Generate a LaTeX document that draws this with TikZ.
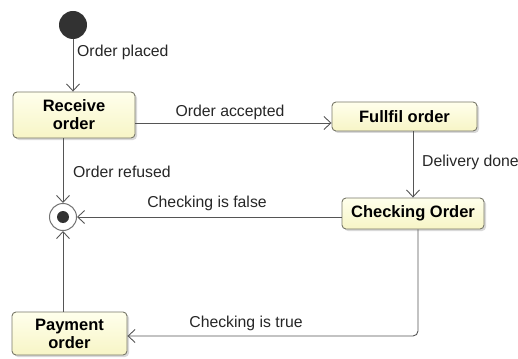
\documentclass[tikz,border=0pt]{standalone}
\usepackage{fontspec}
\setmainfont{Liberation Sans}
\usetikzlibrary{arrows.meta,shadows}
\definecolor{boxtop}{RGB}{255,255,236}
\definecolor{boxbot}{RGB}{247,245,198}
\definecolor{boxline}{RGB}{120,120,105}
\definecolor{wire}{RGB}{85,85,85}
\definecolor{dot}{RGB}{50,50,50}
\begin{document}
\begin{tikzpicture}[x=1pt,y=-1pt,
  state/.style={draw=boxline, line width=0.9pt, rounded corners=4pt,
    top color=boxtop, bottom color=boxbot, align=center,
    font=\fontsize{16.5}{18}\selectfont\bfseries, inner sep=0pt,
    drop shadow={shadow xshift=2pt, shadow yshift=-2pt, fill=black!25, opacity=0.6}},
  lbl/.style={font=\fontsize{15.8}{18}\selectfont, text=black!85, inner sep=0pt},
  trans/.style={draw=wire, line width=0.9pt,
    -{Straight Barb[length=7pt, width=13pt, line width=0.9pt]}}]
  \useasboundingbox (0,0) rectangle (518,358);

  % pseudo states
  \node[circle, fill=dot, minimum size=28pt, inner sep=0pt] (init) at (73,25) {};
  \node[circle, draw=black!55, fill=white, line width=1pt, minimum size=27pt, inner sep=0pt] (fin) at (63,217) {};
  \fill[dot] (fin.center) circle (6pt);

  % states
  \node[state, minimum width=122pt, minimum height=46pt] (recv) at (74,115) {Receive\\order};
  \node[state, minimum width=145pt, minimum height=29pt] (fulfil) at (404.5,116.5) {Fullfil order};
  \node[state, minimum width=142pt, minimum height=31pt] (check) at (413,213.5) {Checking Order};
  \node[state, minimum width=115pt, minimum height=43pt] (pay) at (69.5,333.5) {Payment\\order};

  % routing helpers
  \coordinate (acc) at (0,123);
  \coordinate (trueX) at (418,0);
  \coordinate (trueY) at (0,336);
  \coordinate (corner) at (418,336);

  % transitions
  \draw[trans] (init) -- (init |- recv.north);
  \node[lbl, anchor=west] (lplaced) at (77,52) {Order placed};

  \draw[trans] (recv.east |- acc) -- (fulfil.west |- acc);
  \node[lbl] (laccepted) at (230,112) {Order accepted};

  \draw[trans] (fulfil.south -| check) -- (check.north);
  \node[lbl, anchor=west] (ldelivery) at (422,162) {Delivery done};

  \draw[trans] (fin |- recv.south) -- (fin.north);
  \node[lbl, anchor=west] (lrefused) at (73,172) {Order refused};

  \draw[trans] (check.west |- fin) -- (fin.east);
  \node[lbl] (lfalse) at (207,203) {Checking is false};

  \draw[trans, rounded corners=5pt] (check.south -| trueX) -- (corner) -- (pay.east |- trueY);
  \node[lbl] (ltrue) at (246,323) {Checking is true};

  \draw[trans] (fin |- pay.north) -- (fin.south);
\end{tikzpicture}
\end{document}
